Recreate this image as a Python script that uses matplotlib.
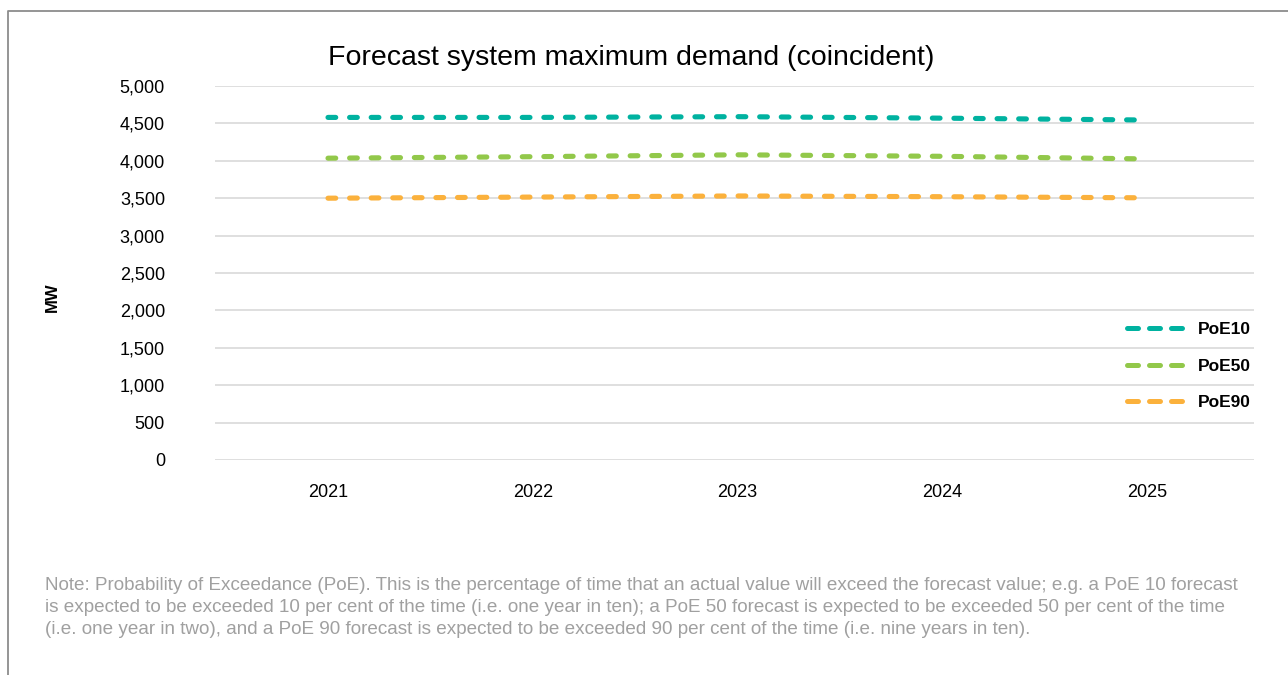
import matplotlib
matplotlib.use("Agg")
import matplotlib.pyplot as plt
from matplotlib.lines import Line2D
from matplotlib.ticker import FuncFormatter

plt.rcParams["font.family"] = ["Liberation Sans", "DejaVu Sans"]

# forecast values (MW)
years = ["2021", "2022", "2023", "2024", "2025"]
poe10 = [4580, 4580, 4590, 4570, 4545]
poe50 = [4035, 4055, 4080, 4060, 4025]
poe90 = [3500, 3515, 3530, 3520, 3505]
series_names = ["PoE10", "PoE50", "PoE90"]
colours = ["#00b2a0", "#92c84a", "#fbb13c"]

note = [
    "Note: Probability of Exceedance (PoE). This is the percentage of time that an actual value will exceed the forecast value; e.g. a PoE 10 forecast",
    "is expected to be exceeded 10 per cent of the time (i.e. one year in ten); a PoE 50 forecast is expected to be exceeded 50 per cent of the time",
    "(i.e. one year in two), and a PoE 90 forecast is expected to be exceeded 90 per cent of the time (i.e. nine years in ten).",
]

fig = plt.figure(figsize=(12.88, 6.75), dpi=100)
ax = fig.add_axes([215 / 1288, 1 - 460 / 675, (1254 - 215) / 1288, (460 - 86) / 675])

x = list(range(len(years)))
for vals, c in zip([poe10, poe50, poe90], colours):
    ax.plot(x, vals, color=c, linewidth=3.7, dashes=(1.5, 2.7), dash_capstyle="round", solid_capstyle="round")

ax.set_ylim(0, 5000)
ax.set_xlim(-0.552, 4.523)
ax.set_yticks(range(0, 5001, 500))
ax.yaxis.set_major_formatter(FuncFormatter(lambda v, p: "{:,}".format(int(v))))
ax.set_xticks(x)
ax.set_xticklabels(years)
ax.grid(axis="y", color="#d9d9d9", linewidth=1.2)
ax.set_axisbelow(True)
for s in ax.spines.values():
    s.set_visible(False)
ax.tick_params(axis="both", length=0, labelsize=13, colors="black")
ax.tick_params(axis="y", pad=36)
ax.tick_params(axis="x", pad=17)

fig.text(631 / 1288, 1 - 58 / 675, "Forecast system maximum demand (coincident)", ha="center", va="center", fontsize=20.5)
fig.text(52 / 1288, 1 - 297 / 675, "MW", rotation=90, ha="center", va="center", fontsize=12, fontweight="bold")

handles = [Line2D([], [], color=c, linewidth=3.6, dashes=(2.2, 2.2), dash_capstyle="round") for c in colours]
leg = ax.legend(handles, series_names, loc="center left", bbox_to_anchor=(1127 / 1288, 1 - 366 / 675),
                bbox_transform=fig.transFigure, frameon=False, borderpad=0, borderaxespad=0,
                handlelength=3.6, handletextpad=0.5, labelspacing=1.25, prop={"size": 12.5, "weight": "bold"})

for i, line in enumerate(note):
    fig.text(45 / 1288, 1 - (585 + 22 * i) / 675, line, ha="left", va="center", fontsize=13.6, color="#a0a0a0")

# frame on top and left edge
fig.add_artist(Line2D([8 / 1288, 8 / 1288, 1], [0, 1 - 11 / 675, 1 - 11 / 675], transform=fig.transFigure, color="#8c8c8c", linewidth=1.3))

fig.savefig("out.png", dpi=100)
